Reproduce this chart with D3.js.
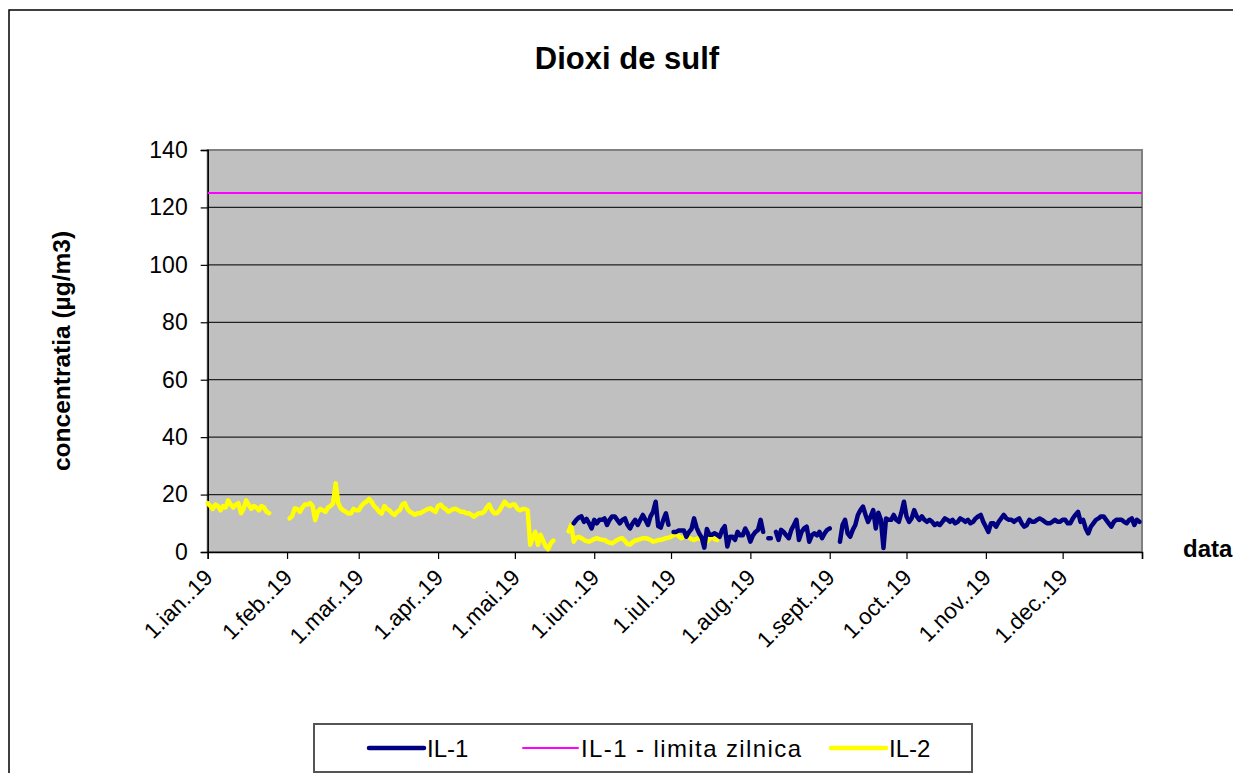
<!DOCTYPE html>
<html><head><meta charset="utf-8">
<script src="https://cdn.jsdelivr.net/npm/d3@7"></script>
<style>
body{margin:0;background:#fff;}
text{font-family:Arial,"Liberation Sans",sans-serif;}
</style>
</head><body>
<svg id="c" width="1233" height="773"></svg>
<script>
// ---- data ----
const chartTitle = "Dioxi de sulf";
const yTitle = "concentratia (µg/m3)";
const xTitle = "data";
const monthLabels = ["1.ian..19","1.feb..19","1.mar..19","1.apr..19","1.mai.19","1.iun..19","1.iul..19","1.aug..19","1.sept..19","1.oct..19","1.nov..19","1.dec..19"];
const yTicks = [0,20,40,60,80,100,120,140];
const seriesNames = ["IL-1","IL-1 - limita zilnica","IL-2"];
const seriesColors = ["#000080","#FF00FF","#FFFF00"];
const limitValue = 125;

const il2Start = "2019-01-01";
const il2Values = [
17,16,15,16.5,16,14.5,16,15.5,18,16.5,15.5,16.5,17,13.5,15,18,16.5,15,16,15.5,14.5,16,15.5,14,13.5,
null,null,null,null,null,null,null,
11.7,12.5,15.2,15,14,15.5,16.5,16.5,17,16,11.1,14,15,14.5,14,15.5,16,17,23.9,17,15.2,14.5,14,13.4,13.5,15,14.5,14.5,16,17,17.5,
18.5,17.5,16,15.2,14,13.4,16,15,14.5,13.5,12.9,14,14.5,16.5,17,15,14,13.5,13,13.5,13.5,14,14.5,15,15.2,14.5,14,16,16.5,15.5,15,14,14.5,15,15,14.5,14,14,13.5,13.5,13,12.3,13,13.5,13.5,14,15.5,16.5,14.5,13.5,13.5,14.5,16,17.5,16.5,16,16.5,16.5,15,14.5,15,15,14.5,
2.5,5,7,2.5,6,4,2,1,3,4,
null,null,null,null,null,
7.2,9.4,3.6,5,5.3,
4.8,4.2,3.8,3.6,4,4.5,4.8,4.5,4.3,4.2,3.6,3.2,3.0,3.6,4.2,4.6,4.8,3.8,2.8,2.6,3.4,4,4.2,4.5,4.8,4.8,4.6,4.2,3.6,3.8,4.2,4.2,4.5,4.8,5,5.3,5.8,6.5,5.5,4.8,5.2,5.9,5,4.5,4.2,4.6,4.8,4.2,3.6,3.6,4.5,5.3,4.5,4.2
];

const il1Start = "2019-05-24";
const il1Values = [
10,11.2,12,12.4,10.5,11.5,10,8.2,11.2,10,11.2,11.2,11.7,9.4,11.2,12.4,12.4,11.2,10,11.2,11.7,9.4,8.2,10,11.2,9.4,11.2,12.9,11.2,9.4,12.4,14,17.5,9,8.5,11.2,13.5,9.5,
null,
7,7,7.5,7.5,7.5,5.3,7,8,11.7,8.5,6.5,5,1.5,8,6,6,6.5,6,5.3,7.7,9,1.9,5.3,5.3,4.2,7,5.8,5.8,8.2,6.5,3.6,5.8,7,7.7,11.2,7,
null,
4.8,4.8,
null,
7,4.2,7.7,7,5.8,4.8,7.7,9.4,11.2,4.2,7,8.2,8.8,3.6,5.8,6.5,5.8,7,4.8,6.5,7.7,8.2,
null,null,null,
3.6,9.4,11.2,6.5,5.3,7.7,9.4,12.9,14.6,15.8,12.9,10.5,12.4,14.6,8.2,13.7,11.2,1.4,11.7,11.2,
11.2,12.9,11.2,10.5,13.7,17.5,12.4,10.5,11.7,14.6,12.4,11.2,12.4,11.2,10.5,11.2,10.5,9.4,10,9.4,10.5,11.7,11.2,10.5,11.2,10,10.5,11.7,11.2,10.5,11.2,10,10.5,11.7,12.4,12.9,10.5,8.8,7,10,10,8.8,10.5,11.7,12.9,11.7,11.2,11.2,10.5,11.2,11.7,10,8.8,9.4,
11.2,10.5,10.5,11.2,11.7,11.2,10.5,10,10,10.5,11.2,10.5,10.5,11.2,11.2,10,10,11.7,12.9,14,10.5,11.2,8.2,6.5,8.8,10,11.2,11.7,12.4,12.4,11.2,10,8.8,10.5,11.2,11.2,11.2,10.5,10,11.2,11.7,9.4,11.2,10.5
];

// ---- drawing ----
const svg = d3.select("#c");
const parse = d3.timeParse("%Y-%m-%d");
const toSeries = (start, vals) => {
  const s = parse(start);
  return vals.map((v,i) => ({date: d3.timeDay.offset(s, i), v}));
};
const il1 = toSeries(il1Start, il1Values);
const il2 = toSeries(il2Start, il2Values);

const L = 207.7, R = 1142, T = 150, B = 552;
const x = d3.scaleTime().domain([new Date(2019,0,1), new Date(2020,0,1)]).range([L, R]);
const y = d3.scaleLinear().domain([0,140]).range([B, T]);
const FF = "Arial, 'Liberation Sans', sans-serif";

svg.append("rect").attr("width",1233).attr("height",773).attr("fill","#fff");
svg.append("path").attr("d","M9,773V10H1233").attr("fill","none").attr("stroke","#000").attr("stroke-width",1.5);

// plot area
svg.append("rect").attr("x",L).attr("y",T).attr("width",R-L).attr("height",B-T)
  .attr("fill","#C0C0C0").attr("stroke","#808080").attr("stroke-width",2);

// grid
svg.append("g").selectAll("line").data(yTicks.filter(t=>t>0 && t<140)).join("line")
  .attr("x1",L).attr("x2",R).attr("y1",d=>y(d)).attr("y2",d=>y(d))
  .attr("stroke","#222").attr("stroke-width",1.2);

// axes
const yAxis = svg.append("g").attr("transform",`translate(${L},0)`)
  .call(d3.axisLeft(y).tickValues(yTicks).tickSize(7).tickPadding(13).tickFormat(d3.format("d")));
yAxis.select(".domain").attr("stroke","#000").attr("stroke-width",1.5);
yAxis.selectAll(".tick line").attr("stroke","#000").attr("stroke-width",1.2);
yAxis.selectAll("text").attr("font-size",23).attr("fill","#000").style("font-family",FF);

const monthTicks = d3.range(13).map(m => new Date(2019, m, 1));
const xAxis = svg.append("g").attr("transform",`translate(0,${B})`)
  .call(d3.axisBottom(x).tickValues(monthTicks).tickSize(7).tickFormat((d,i)=> i<12 ? monthLabels[i] : ""));
xAxis.select(".domain").attr("stroke","#000").attr("stroke-width",1.5);
xAxis.selectAll(".tick line").attr("stroke","#000").attr("stroke-width",1.2);
xAxis.selectAll("text").attr("font-size",22.5).attr("fill","#000")
  .style("font-family",FF)
  .attr("text-anchor","end").attr("dy",0).attr("y",0)
  .attr("transform","translate(6,27) rotate(-45)");

// limit line
svg.append("line").attr("x1",L).attr("x2",R).attr("y1",y(limitValue)).attr("y2",y(limitValue))
  .attr("stroke",seriesColors[1]).attr("stroke-width",2);

const line = d3.line().defined(d=>d.v!=null).x(d=>x(d.date)).y(d=>y(d.v));
svg.append("path").datum(il2).attr("d",line).attr("fill","none")
  .attr("stroke",seriesColors[2]).attr("stroke-width",4.5).attr("stroke-linejoin","round").attr("stroke-linecap","round");
svg.append("path").datum(il1).attr("d",line).attr("fill","none")
  .attr("stroke",seriesColors[0]).attr("stroke-width",4.5).attr("stroke-linejoin","round").attr("stroke-linecap","round");

// titles
svg.append("text").attr("x",627).attr("y",69).attr("text-anchor","middle")
  .attr("font-size",31).attr("font-weight","bold").text(chartTitle);
svg.append("text").attr("transform","translate(70,351) rotate(-90)").attr("text-anchor","middle")
  .attr("font-size",24.5).attr("font-weight","bold").text(yTitle);
svg.append("text").attr("x",1183).attr("y",557).attr("font-size",24).attr("font-weight","bold").text(xTitle);

// legend
const lg = svg.append("g");
lg.append("rect").attr("x",314).attr("y",724).attr("width",658).attr("height",48)
  .attr("fill","#fff").attr("stroke","#555").attr("stroke-width",2);
const legX = [369, 523, 831];
const legW = [4.5, 2, 4.5];
seriesNames.forEach((n,i)=>{
  lg.append("line").attr("x1",legX[i]).attr("x2",legX[i]+55).attr("y1",748).attr("y2",748)
    .attr("stroke",seriesColors[i]).attr("stroke-width",legW[i]).attr("stroke-linecap","round");
  const t = lg.append("text").attr("x",legX[i]+58).attr("y",757).attr("font-size",24).text(n);
  if (n.length > 10) t.attr("letter-spacing",1.4);
});
</script>
</body></html>
